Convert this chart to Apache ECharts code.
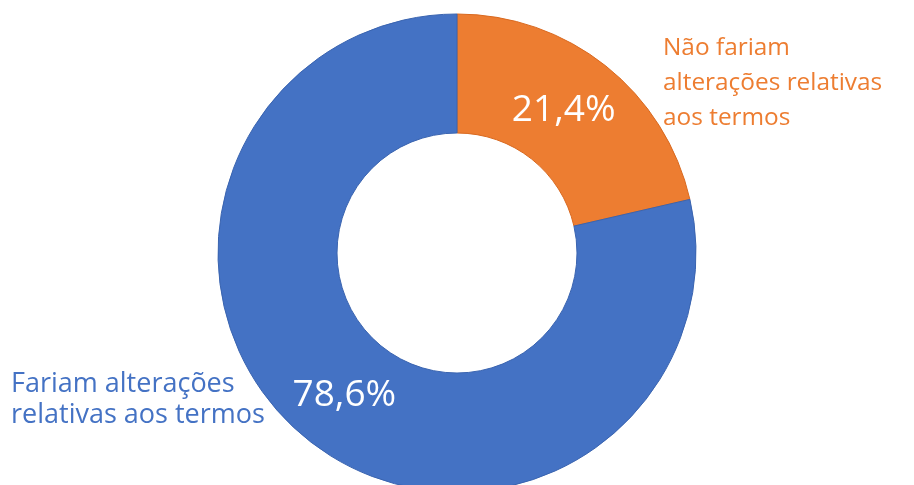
<!DOCTYPE html>
<html>
<head>
<meta charset="utf-8">
<script src="https://cdn.jsdelivr.net/npm/echarts@6/dist/echarts.min.js"></script>
<style>
  html, body { margin: 0; padding: 0; background: #ffffff; }
  #chart { width: 914px; height: 485px; }
</style>
</head>
<body>
<div id="chart"></div>
<script>
// Share of respondents who would / would not change the terms
const categories = ['Não fariam alterações relativas aos termos', 'Fariam alterações relativas aos termos'];
const displayNames = ['Não fariam\nalterações relativas\naos termos', 'Fariam alterações\nrelativas aos termos'];
const values = [21.4, 78.6];
const colors = ['#ED7D31', '#4472C4'];
const edgeColors = ['#D9691F', '#3A64B0'];

const FONT = '"Open Sans", sans-serif';

const chart = echarts.init(document.getElementById('chart'));

// inner percentage labels, small nudge for the narrow slice
const insideOffset = [[-7, 0], [1, 0]];

const pieData = categories.map((c, i) => ({
  name: c,
  value: values[i],
  itemStyle: { color: colors[i], borderColor: edgeColors[i], borderWidth: 1 },
  label: { offset: insideOffset[i] }
}));

// external category labels placed beside the ring
const outsideStyle = [
  { x: 663, y: 31, fontSize: 24.4, lineHeight: 35 },
  { x: 11, y: 369, fontSize: 27, lineHeight: 31 }
];

chart.setOption({
  animation: false,
  backgroundColor: '#ffffff',
  series: [
    {
      type: 'pie',
      center: [457, 253],
      radius: [120, 239],
      startAngle: 90,
      clockwise: true,
      silent: true,
      data: pieData,
      label: {
        show: true,
        position: 'inside',
        color: '#ffffff',
        fontFamily: FONT,
        fontSize: 37,
        formatter: p => p.value.toFixed(1).replace('.', ',') + '%'
      },
      labelLine: { show: false }
    },
    {
      type: 'pie',
      center: [457, 253],
      radius: [120, 239],
      startAngle: 90,
      clockwise: true,
      silent: true,
      data: categories.map((c, i) => ({
        name: c,
        value: values[i],
        itemStyle: { color: 'rgba(0,0,0,0)' },
        label: {
          color: colors[i],
          fontSize: outsideStyle[i].fontSize,
          lineHeight: outsideStyle[i].lineHeight
        }
      })),
      label: {
        show: true,
        position: 'outside',
        fontFamily: FONT,
        overflow: 'none',
        width: 300,
        formatter: p => displayNames[p.dataIndex]
      },
      labelLine: { show: false },
      labelLayout: p => ({
        x: outsideStyle[p.dataIndex].x,
        y: outsideStyle[p.dataIndex].y,
        align: 'left',
        verticalAlign: 'top'
      })
    }
  ]
});
</script>
</body>
</html>
